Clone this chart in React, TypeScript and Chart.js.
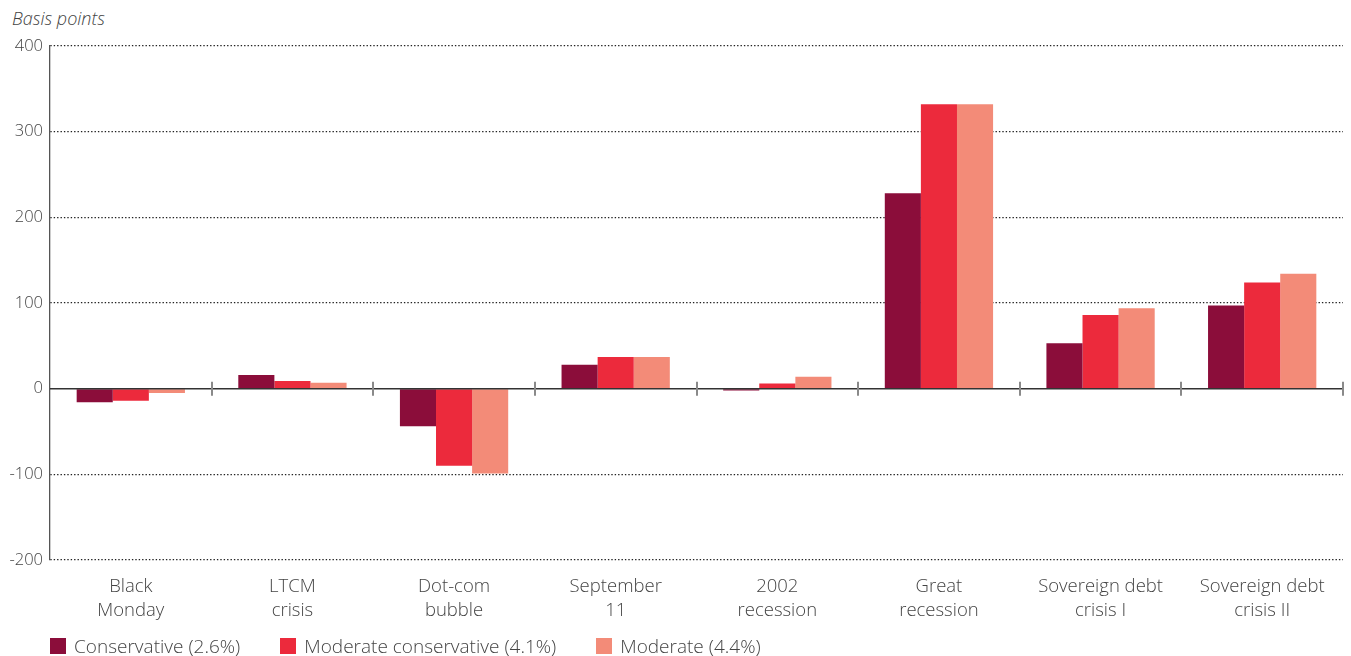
import React, { useEffect, useRef } from "react";
import { Chart, registerables } from "chart.js";

Chart.register(...registerables);

const categories: string[][] = [
  ["Black", "Monday"],
  ["LTCM", "crisis"],
  ["Dot-com", "bubble"],
  ["September", "11"],
  ["2002", "recession"],
  ["Great", "recession"],
  ["Sovereign debt", "crisis I"],
  ["Sovereign debt", "crisis II"],
];

const conservative = [-16, 16, -44, 28, -2, 228, 53, 97];
const moderateConservative = [-14, 9, -90, 37, 6, 332, 86, 124];
const moderate = [-5, 7, -99, 37, 14, 332, 94, 134];

const seriesNames = ["Conservative (2.6%)", "Moderate conservative (4.1%)", "Moderate (4.4%)"];
const seriesColors = ["#8B0D3A", "#EC2A3C", "#F38B78"];

const yMin = -200;
const yMax = 400;
const yStep = 100;

const FONT = "'Open Sans', Roboto, 'Liberation Sans', Arial, sans-serif";
const FS_X = 18.5;
const FS_Y = 16.5;
const FS_LEG = 19;

const zeroLinePlugin = {
  id: "zeroLineTicks",
  afterDatasetsDraw(chart: any) {
    const { ctx, scales } = chart;
    const x = scales.x;
    const y = scales.y;
    const y0 = y.getPixelForValue(0);
    ctx.save();
    ctx.strokeStyle = "#333";
    ctx.lineWidth = 1.5;
    ctx.beginPath();
    ctx.moveTo(chart.chartArea.left, y0);
    ctx.lineTo(chart.chartArea.right, y0);
    ctx.stroke();
    ctx.strokeStyle = "#8a8a8a";
    ctx.lineWidth = 2;
    for (let i = 1; i <= categories.length; i++) {
      const px = Math.round(x.getPixelForValue(i - 0.5));
      ctx.beginPath();
      ctx.moveTo(px, y0 - 7);
      ctx.lineTo(px, y0 + 7);
      ctx.stroke();
    }
    ctx.restore();
  },
};

export default function App() {
  const canvasRef = useRef<HTMLCanvasElement | null>(null);

  useEffect(() => {
    if (!canvasRef.current) return;
    const chart = new Chart(canvasRef.current, {
      type: "bar",
      data: {
        labels: categories,
        datasets: [conservative, moderateConservative, moderate].map((d, i) => ({
          label: seriesNames[i],
          data: d,
          backgroundColor: seriesColors[i],
          borderWidth: 0,
          categoryPercentage: 0.67,
          barPercentage: 1,
        })),
      },
      options: {
        animation: false,
        responsive: true,
        maintainAspectRatio: false,
        layout: { padding: { top: 46, right: 8, left: 0, bottom: 0 } },
        plugins: {
          legend: { display: false },
          tooltip: { enabled: false },
          title: { display: false },
        },
        scales: {
          x: {
            grid: { display: false },
            border: { display: false },
            ticks: {
              color: "#444",
              font: { family: FONT, size: FS_X, weight: "300", lineHeight: 24 / FS_X },
              padding: 7,
              maxRotation: 0,
              autoSkip: false,
            },
            afterFit: (s: any) => {
              s.height = 96;
            },
          },
          y: {
            min: yMin,
            max: yMax,
            grid: {
              color: (c: any) => (c.tick && c.tick.value === 0 ? "rgba(0,0,0,0)" : "#222"),
              lineWidth: 1.3,
              drawTicks: false,
            },
            border: {
              display: true,
              color: "#555",
              width: 1.3,
              dash: (c: any) => (c.tick && c.tick.value !== 0 ? [1.4, 2] : []),
            },
            ticks: {
              stepSize: yStep,
              color: "#444",
              font: { family: FONT, size: FS_Y, weight: "300" },
              padding: 7,
            },
            afterFit: (s: any) => {
              s.width = 50;
            },
          },
        },
      },
      plugins: [zeroLinePlugin],
    } as any);
    return () => chart.destroy();
  }, []);

  return (
    <div
      style={{
        position: "absolute",
        left: 0,
        top: 0,
        width: 1351,
        height: 656,
        background: "#fff",
        fontFamily: FONT,
      }}
    >
      <div
        style={{
          position: "absolute",
          left: 12,
          top: 7,
          fontSize: 18,
          fontStyle: "italic",
          fontWeight: 300,
          color: "#444",
          lineHeight: "22px",
        }}
      >
        Basis points
      </div>
      <canvas ref={canvasRef} style={{ position: "absolute", left: 0, top: 0, width: 1351, height: 656 }} />
      <div
        style={{
          position: "absolute",
          left: 50,
          top: 635,
          display: "flex",
          alignItems: "center",
          fontSize: FS_LEG,
          fontWeight: 300,
          color: "#444",
          lineHeight: "22px",
          whiteSpace: "nowrap",
        }}
      >
        {seriesNames.map((n, i) => (
          <div key={n} style={{ display: "flex", alignItems: "center", marginRight: 40 }}>
            <span style={{ display: "inline-block", width: 16, height: 16, background: seriesColors[i], marginRight: 8 }} />
            <span>{n}</span>
          </div>
        ))}
      </div>
    </div>
  );
}
